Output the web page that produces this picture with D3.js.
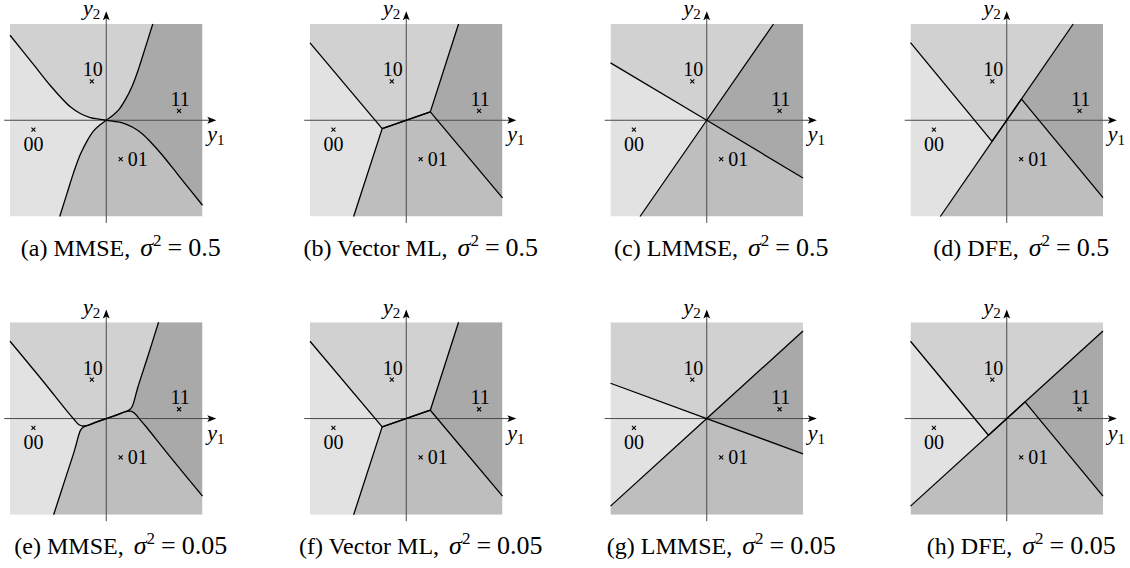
<!DOCTYPE html>
<html>
<head>
<meta charset="utf-8">
<script src="https://cdn.jsdelivr.net/npm/d3@7"></script>
<style>
  body { margin: 0; background: #fff; }
  svg { display: block; }
  text { font-family: "Liberation Serif", "Times New Roman", serif; fill: #000; }
</style>
</head>
<body>
<svg id="fig" width="1130" height="568"></svg>
<script>
// ---- constellation (received-signal plane, square spans [-3,3] x [-3,3]) ----
const symbolLabels = ["00", "01", "10", "11"];
const symbolY1 = [-2.27, 0.45, -0.45, 2.27];
const symbolY2 = [-0.29, -1.21, 1.21, 0.29];

// ---- sub-figure captions ----
const captionLetters = ["a", "b", "c", "d", "e", "f", "g", "h"];
const detectorNames = ["MMSE", "Vector ML", "LMMSE", "DFE", "MMSE", "Vector ML", "LMMSE", "DFE"];
const noiseVariances = ["0.5", "0.5", "0.5", "0.5", "0.05", "0.05", "0.05", "0.05"];

// ---- decision boundaries as [y1, y2] vertices ----
// bit 1 boundary: separates {10,11} (left of travel) from {00,01}
// bit 2 boundary: separates {00,10} (left of travel) from {01,11}
const mmseHighBit1 = [[-3, 2.65], [-2.27, 1.74], [-1.75, 1.09], [-1.44, 0.74], [-1.12, 0.42], [-0.81, 0.21],
  [-0.5, 0.08], [-0.19, 0.03], [0, 0], [0.19, -0.03], [0.5, -0.08], [0.81, -0.21], [1.12, -0.42],
  [1.44, -0.74], [1.75, -1.09], [2.27, -1.74], [3, -2.65]];
const mmseHighBit2 = [[-1.45, -3], [-1.22, -2.27], [-1.02, -1.64], [-0.81, -1.07], [-0.6, -0.65], [-0.4, -0.34],
  [-0.19, -0.14], [0, 0], [0.19, 0.14], [0.4, 0.34], [0.6, 0.65], [0.81, 1.07], [1.02, 1.64],
  [1.22, 2.27], [1.45, 3]];

const mmseLowBit1 = [[-3, 2.41], [-1.95, 1.14], [-1.23, 0.24], [-1.0, -0.03], [-0.89, -0.16], [-0.76, -0.23],
  [-0.58, -0.21], [-0.3, -0.1], [0, 0], [0.3, 0.1], [0.58, 0.21], [0.76, 0.23], [0.89, 0.16],
  [1.0, 0.03], [1.23, -0.24], [1.95, -1.14], [3, -2.42]];
const mmseLowBit2 = [[-1.64, -3], [-1.3, -1.95], [-0.98, -0.96], [-0.86, -0.52], [-0.8, -0.36], [-0.72, -0.27],
  [-0.6, -0.22], [-0.3, -0.11], [0, 0], [0.3, 0.11], [0.6, 0.22], [0.72, 0.27], [0.8, 0.36],
  [0.86, 0.52], [0.98, 0.96], [1.3, 1.95], [1.63, 3]];

const mlBit1 = [[-3, 2.41], [-0.75, -0.26], [0.75, 0.26], [3, -2.42]];
const mlBit2 = [[-1.64, -3], [-0.75, -0.26], [0.75, 0.26], [1.63, 3]];

const lmmseHighBit1 = [[-3, 1.79], [0, 0], [3, -1.8]];
const lmmseHighBit2 = [[-2.08, -3], [0, 0], [2.08, 3]];
const lmmseLowBit1 = [[-3, 1.1], [0, 0], [3, -1.1]];
const lmmseLowBit2 = [[-3, -2.73], [0, 0], [3, 2.73]];

const dfeHighBit1 = [[-3, 2.42], [-0.46, -0.66], [0.46, 0.66], [3, -2.41]];
const dfeHighBit2 = [[-2.07, -3], [2.07, 3]];
const dfeLowBit1 = [[-3, 2.41], [-0.57, -0.52], [0.57, 0.52], [3, -2.42]];
const dfeLowBit2 = [[-3, -2.73], [3, 2.73]];

const panelBit1 = [mmseHighBit1, mlBit1, lmmseHighBit1, dfeHighBit1, mmseLowBit1, mlBit1, lmmseLowBit1, dfeLowBit1];
const panelBit2 = [mmseHighBit2, mlBit2, lmmseHighBit2, dfeHighBit2, mmseLowBit2, mlBit2, lmmseLowBit2, dfeLowBit2];

// ---- layout & style ----
const SIZE = 192.5;
const colLeft = [10, 310, 610.5, 910.5];
const rowTop = [24, 322.3];
const captionBaseline = [256, 554.3];
const regionFill = { "00": "#e2e2e2", "10": "#d1d1d1", "01": "#bebebe", "11": "#a9a9a9" };
const axisColor = "#4a4a4a";

const svg = d3.select("#fig");
const defs = svg.append("defs");

// position along the square's border, counter-clockwise from the bottom-left corner
const cornerT = [0, 6, 12, 18];
const cornerPts = [[-3, -3], [3, -3], [3, 3], [-3, 3]];
function borderT([u, v]) {
  const d = [Math.abs(v + 3), Math.abs(u - 3), Math.abs(v - 3), Math.abs(u + 3)];
  const e = d.indexOf(Math.min(...d));
  return [u + 3, 9 + v, 15 - u, 21 - v][e];
}
// corners met when walking counter-clockwise along the border from p to q
function borderWalk(p, q) {
  const tp = borderT(p), tq = borderT(q);
  const span = (tq - tp + 24) % 24;
  return cornerPts
    .map((c, i) => ({ c, d: (cornerT[i] - tp + 24) % 24 }))
    .filter(o => o.d > 0 && o.d < span)
    .sort((a, b) => a.d - b.d)
    .map(o => o.c);
}

for (let k = 0; k < 8; k++) {
  const row = Math.floor(k / 4), col = k % 4;
  const x = d3.scaleLinear().domain([-3, 3]).range([colLeft[col], colLeft[col] + SIZE]);
  const y = d3.scaleLinear().domain([-3, 3]).range([rowTop[row] + SIZE, rowTop[row]]);
  const smooth = detectorNames[k] === "MMSE";
  const line = d3.line().x(d => x(d[0])).y(d => y(d[1]))
    .curve(smooth ? d3.curveCatmullRom.alpha(0.5) : d3.curveLinear);

  // region lying on the left of a boundary traversed along pts
  const sidePath = pts => line(pts) +
    borderWalk(pts[pts.length - 1], pts[0]).map(c => `L${x(c[0])},${y(c[1])}`).join("") + "Z";

  const b1 = panelBit1[k], b2 = panelBit2[k];
  const b1Rev = b1.slice().reverse(), b2Rev = b2.slice().reverse();

  defs.append("clipPath").attr("id", `bit2zero${k}`).append("path").attr("d", sidePath(b2));
  defs.append("clipPath").attr("id", `bit2one${k}`).append("path").attr("d", sidePath(b2Rev));

  const g = svg.append("g");

  // decision regions
  symbolLabels.forEach(lab => {
    const upper = lab[0] === "1";
    const right = lab[1] === "1";
    g.append("path")
      .attr("d", sidePath(upper ? b1 : b1Rev))
      .attr("fill", regionFill[lab])
      .attr("clip-path", `url(#${right ? "bit2one" : "bit2zero"}${k})`);
  });

  // axes with arrow heads
  const ox = x(0), oy = y(0);
  g.append("line").attr("x1", x(-3.18)).attr("x2", x(3.43) - 6).attr("y1", oy).attr("y2", oy)
    .attr("stroke", axisColor).attr("stroke-width", 1);
  g.append("line").attr("x1", ox).attr("x2", ox).attr("y1", y(-3.2)).attr("y2", y(3.4) + 6)
    .attr("stroke", axisColor).attr("stroke-width", 1);
  const head = "M0,0L-9,-3.4L-7,0L-9,3.4Z";
  g.append("path").attr("d", head).attr("fill", "#000")
    .attr("transform", `translate(${x(3.43)},${oy})`);
  g.append("path").attr("d", head).attr("fill", "#000")
    .attr("transform", `translate(${ox},${y(3.4)}) rotate(-90)`);

  // boundaries
  [b1, b2].forEach(pts => {
    g.append("path").attr("d", line(pts)).attr("fill", "none")
      .attr("stroke", "#000").attr("stroke-width", 1.3).attr("stroke-linejoin", "round");
  });

  // axis labels
  const y1Lab = g.append("text").attr("x", ox + 101).attr("y", oy + 21).style("font-size", "22px");
  y1Lab.append("tspan").style("font-style", "italic").text("y");
  y1Lab.append("tspan").attr("dy", 4).style("font-size", "15px").text("1");
  const y2Lab = g.append("text").attr("x", ox - 6).attr("y", oy - 105)
    .attr("text-anchor", "end").style("font-size", "22px");
  y2Lab.append("tspan").style("font-style", "italic").text("y");
  y2Lab.append("tspan").attr("dy", 4).style("font-size", "15px").text("2");

  // constellation points
  symbolLabels.forEach((lab, i) => {
    const px = x(symbolY1[i]), py = y(symbolY2[i]);
    g.append("path").attr("d", `M${px - 2},${py - 2}L${px + 2},${py + 2}M${px - 2},${py + 2}L${px + 2},${py - 2}`)
      .attr("stroke", "#000").attr("stroke-width", 1.1);
    const t = g.append("text").style("font-size", "20px").text(lab);
    if (lab === "00") t.attr("x", px).attr("y", py + 21).attr("text-anchor", "middle");
    else if (lab === "01") t.attr("x", px + 7).attr("y", py + 6.5).attr("text-anchor", "start");
    else t.attr("x", px + 1).attr("y", py - 5).attr("text-anchor", "middle");
  });

  // caption
  const cap = svg.append("text").attr("x", ox + 14.5).attr("y", captionBaseline[row])
    .attr("text-anchor", "middle").style("font-size", "24px");
  cap.append("tspan").text(`(${captionLetters[k]}) ${detectorNames[k]},`);
  cap.append("tspan").attr("dx", 10).style("font-style", "italic").style("font-size", "26px").text("σ");
  cap.append("tspan").attr("dy", -10).style("font-size", "17px").text("2");
  cap.append("tspan").attr("dy", 10).attr("dx", 6).style("font-size", "26px").text("=");
  cap.append("tspan").attr("dx", 6).style("font-size", "26px").text(noiseVariances[k]);
}
</script>
</body>
</html>
